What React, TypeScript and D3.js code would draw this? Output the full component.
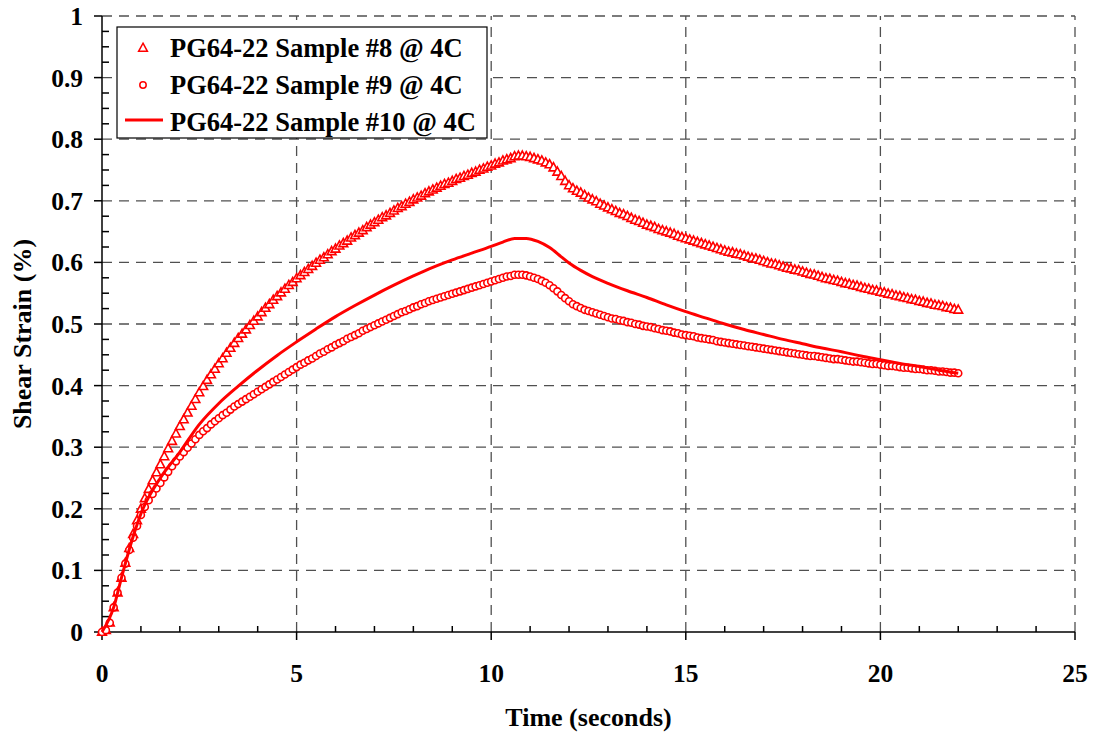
import React from "react";
import * as d3 from "d3";

// ---------- data ----------
const sampleInterval = 0.1; // seconds between recorded samples
const xTicks = [0, 5, 10, 15, 20, 25];
const yTicks = [0, 0.1, 0.2, 0.3, 0.4, 0.5, 0.6, 0.7, 0.8, 0.9, 1];
const seriesNames = ["PG64-22 Sample #8 @ 4C", "PG64-22 Sample #9 @ 4C", "PG64-22 Sample #10 @ 4C"];

// Sample #8 (triangles), one value per 0.1 s from 0 to 22 s
const sample8 = [
  0.000, 0.003, 0.015, 0.040, 0.064, 0.088, 0.112, 0.136, 0.159, 0.181,
  0.200, 0.217, 0.232, 0.246, 0.259, 0.272, 0.285, 0.298, 0.310, 0.322,
  0.334, 0.345, 0.356, 0.367, 0.378, 0.389, 0.399, 0.409, 0.418, 0.427,
  0.436, 0.444, 0.453, 0.461, 0.469, 0.477, 0.484, 0.491, 0.498, 0.505,
  0.512, 0.519, 0.526, 0.532, 0.539, 0.545, 0.551, 0.557, 0.563, 0.568,
  0.574, 0.579, 0.584, 0.589, 0.594, 0.599, 0.604, 0.608, 0.613, 0.618,
  0.622, 0.627, 0.631, 0.635, 0.640, 0.644, 0.648, 0.652, 0.657, 0.661,
  0.665, 0.669, 0.673, 0.676, 0.680, 0.684, 0.688, 0.691, 0.695, 0.698,
  0.702, 0.705, 0.708, 0.712, 0.715, 0.718, 0.721, 0.724, 0.727, 0.729,
  0.732, 0.735, 0.737, 0.740, 0.742, 0.745, 0.747, 0.750, 0.752, 0.755,
  0.757, 0.760, 0.762, 0.765, 0.767, 0.769, 0.772, 0.773, 0.773, 0.772,
  0.771, 0.769, 0.767, 0.765, 0.762, 0.759, 0.754, 0.747, 0.740, 0.732,
  0.725, 0.720, 0.716, 0.713, 0.709, 0.705, 0.702, 0.699, 0.695, 0.692,
  0.689, 0.686, 0.683, 0.680, 0.678, 0.675, 0.672, 0.669, 0.667, 0.664,
  0.661, 0.659, 0.657, 0.654, 0.652, 0.650, 0.648, 0.646, 0.643, 0.641,
  0.639, 0.637, 0.635, 0.633, 0.631, 0.629, 0.627, 0.625, 0.623, 0.621,
  0.619, 0.617, 0.616, 0.614, 0.613, 0.611, 0.609, 0.607, 0.606, 0.604,
  0.602, 0.600, 0.598, 0.597, 0.595, 0.593, 0.591, 0.590, 0.588, 0.587,
  0.585, 0.583, 0.581, 0.580, 0.578, 0.576, 0.574, 0.573, 0.571, 0.570,
  0.568, 0.566, 0.565, 0.563, 0.562, 0.560, 0.558, 0.557, 0.555, 0.554,
  0.552, 0.551, 0.549, 0.548, 0.546, 0.545, 0.543, 0.542, 0.540, 0.539,
  0.537, 0.536, 0.534, 0.533, 0.531, 0.530, 0.529, 0.527, 0.526, 0.524,
  0.523,
];

// Sample #9 (circles), one value per 0.1 s from 0 to 22 s
const sample9 = [
  0.000, 0.003, 0.015, 0.040, 0.064, 0.088, 0.111, 0.133, 0.153, 0.172,
  0.190, 0.203, 0.214, 0.224, 0.233, 0.242, 0.251, 0.260, 0.269, 0.277,
  0.285, 0.292, 0.299, 0.306, 0.313, 0.320, 0.326, 0.331, 0.337, 0.342,
  0.347, 0.352, 0.356, 0.361, 0.366, 0.370, 0.374, 0.378, 0.382, 0.386,
  0.390, 0.394, 0.398, 0.402, 0.406, 0.410, 0.414, 0.418, 0.422, 0.426,
  0.430, 0.434, 0.437, 0.441, 0.444, 0.448, 0.452, 0.455, 0.459, 0.462,
  0.466, 0.469, 0.472, 0.476, 0.479, 0.482, 0.485, 0.489, 0.492, 0.495,
  0.498, 0.501, 0.504, 0.507, 0.510, 0.513, 0.516, 0.519, 0.521, 0.524,
  0.527, 0.529, 0.532, 0.534, 0.537, 0.539, 0.541, 0.543, 0.545, 0.547,
  0.549, 0.551, 0.553, 0.555, 0.557, 0.559, 0.561, 0.563, 0.565, 0.567,
  0.569, 0.571, 0.573, 0.575, 0.577, 0.578, 0.580, 0.580, 0.580, 0.579,
  0.577, 0.575, 0.573, 0.570, 0.567, 0.563, 0.558, 0.553, 0.547, 0.542,
  0.537, 0.532, 0.529, 0.526, 0.523, 0.521, 0.519, 0.517, 0.515, 0.513,
  0.511, 0.509, 0.508, 0.506, 0.505, 0.503, 0.502, 0.500, 0.499, 0.497,
  0.496, 0.495, 0.493, 0.492, 0.490, 0.489, 0.488, 0.486, 0.485, 0.483,
  0.482, 0.481, 0.480, 0.478, 0.477, 0.476, 0.475, 0.474, 0.472, 0.471,
  0.470, 0.469, 0.468, 0.467, 0.466, 0.465, 0.464, 0.463, 0.462, 0.461,
  0.460, 0.459, 0.458, 0.457, 0.456, 0.455, 0.454, 0.453, 0.452, 0.451,
  0.450, 0.449, 0.448, 0.448, 0.447, 0.446, 0.445, 0.444, 0.443, 0.443,
  0.442, 0.441, 0.440, 0.439, 0.439, 0.438, 0.437, 0.436, 0.435, 0.435,
  0.434, 0.433, 0.432, 0.432, 0.431, 0.430, 0.429, 0.429, 0.428, 0.427,
  0.427, 0.426, 0.425, 0.425, 0.424, 0.423, 0.423, 0.422, 0.421, 0.421,
  0.420,
];

// Sample #10 (line)
const sample10Time = [
  0, 0.3, 0.5, 0.8, 1, 1.5, 2, 2.5, 3, 3.5, 4, 4.5, 5, 5.5, 6, 6.5, 7, 7.5, 8, 8.5,
  9, 9.5, 10, 10.3, 10.6, 10.9, 11.2, 11.5, 11.8, 12, 12.3, 12.6, 13, 13.5, 14, 14.5,
  15, 15.5, 16, 16.5, 17, 17.5, 18, 18.5, 19, 19.5, 20, 20.5, 21, 21.5, 22,
];
const sample10 = [
  0.000, 0.040, 0.088, 0.155, 0.192, 0.250, 0.292, 0.337, 0.371, 0.399, 0.425, 0.449,
  0.471, 0.492, 0.512, 0.530, 0.547, 0.563, 0.578, 0.592, 0.604, 0.615, 0.626, 0.633,
  0.639, 0.639, 0.634, 0.624, 0.609, 0.599, 0.587, 0.577, 0.566, 0.554, 0.543, 0.531,
  0.520, 0.510, 0.500, 0.491, 0.483, 0.475, 0.468, 0.461, 0.455, 0.448, 0.442, 0.436,
  0.431, 0.425, 0.420,
];

// ---------- layout ----------
const W = 1097;
const H = 736;
const plot = { left: 102, right: 1075, top: 16, bottom: 632 };
const RED = "#ff0000";
const FONT = "'Liberation Serif', 'Times New Roman', serif";

const x = d3.scaleLinear().domain([0, 25]).range([plot.left, plot.right]);
const y = d3.scaleLinear().domain([0, 1]).range([plot.bottom, plot.top]);

const pts8 = sample8.map((v, i) => [i * sampleInterval, v] as [number, number]);
const pts9 = sample9.map((v, i) => [i * sampleInterval, v] as [number, number]);
const pts10 = sample10.map((v, i) => [sample10Time[i], v] as [number, number]);

const tri = (cx: number, cy: number) =>
  `M${cx},${cy - 4.8}L${cx + 4.4},${cy + 3.3}L${cx - 4.4},${cy + 3.3}Z`;

export default function App() {
  const line = d3
    .line<[number, number]>()
    .x((d) => x(d[0]))
    .y((d) => y(d[1]))
    .curve(d3.curveMonotoneX);

  const xMinor = d3.range(0, 26, 1).filter((v) => v % 5 !== 0);
  const yMinor = d3.range(0, 41, 1).map((i) => i * 0.025).filter((_, i) => i % 4 !== 0);

  return (
    <svg
      width={W}
      height={H}
      style={{ position: "absolute", left: 0, top: 0, background: "#fff" }}
      fontFamily={FONT}
      fontWeight="bold"
    >
      <rect x={0} y={0} width={W} height={H} fill="#fff" />
      {/* grid */}
      <g stroke="#505050" strokeWidth={1.3} strokeDasharray="10,7">
        {yTicks.filter((t) => t > 0).map((t) => (
          <line key={"gy" + t} x1={plot.left} x2={plot.right} y1={y(t)} y2={y(t)} />
        ))}
        {xTicks.filter((t) => t > 0).map((t) => (
          <line key={"gx" + t} x1={x(t)} x2={x(t)} y1={plot.bottom} y2={plot.top} />
        ))}
      </g>
      {/* axes */}
      <g stroke="#000" strokeWidth={1.5}>
        <line x1={plot.left} x2={plot.left} y1={plot.top} y2={plot.bottom} />
        <line x1={plot.left} x2={plot.right} y1={plot.bottom} y2={plot.bottom} />
        {yTicks.map((t) => (
          <line key={"ty" + t} x1={plot.left - 8} x2={plot.left} y1={y(t)} y2={y(t)} />
        ))}
        {yMinor.map((t) => (
          <line key={"my" + t} x1={plot.left} x2={plot.left + 7} y1={y(t)} y2={y(t)} />
        ))}
        {xTicks.map((t) => (
          <line key={"tx" + t} x1={x(t)} x2={x(t)} y1={plot.bottom} y2={plot.bottom + 8} />
        ))}
        {xMinor.map((t) => (
          <line key={"mx" + t} x1={x(t)} x2={x(t)} y1={plot.bottom} y2={plot.bottom - 6} />
        ))}
      </g>
      {/* tick labels */}
      <g fontSize={25.5} fill="#000">
        {yTicks.map((t) => (
          <text key={"ly" + t} x={83} y={y(t)} dy="0.35em" textAnchor="end">
            {d3.format("~g")(t)}
          </text>
        ))}
        {xTicks.map((t) => (
          <text key={"lx" + t} x={x(t)} y={682} textAnchor="middle">
            {t}
          </text>
        ))}
      </g>
      {/* axis titles */}
      <text x={(plot.left + plot.right) / 2} y={726} textAnchor="middle" fontSize={26}>
        Time (seconds)
      </text>
      <text
        transform={`translate(31, ${(plot.top + plot.bottom) / 2 + 10}) rotate(-90)`}
        textAnchor="middle"
        fontSize={26}
      >
        Shear Strain (%)
      </text>
      {/* series */}
      <g fill="#fff" stroke={RED} strokeWidth={1.6}>
        {pts8.map((d, i) => (
          <path key={"p8" + i} d={tri(x(d[0]), y(d[1]))} />
        ))}
      </g>
      <g fill="#fff" stroke={RED} strokeWidth={1.6}>
        {pts9.map((d, i) => (
          <circle key={"p9" + i} cx={x(d[0])} cy={y(d[1])} r={3.5} />
        ))}
      </g>
      <path d={line(pts10) || ""} fill="none" stroke={RED} strokeWidth={3} />
      {/* legend */}
      <g>
        <rect x={117} y={27} width={370} height={111} fill="#fff" stroke="#000" strokeWidth={1.2} />
        <path d={tri(143, 48)} fill="#fff" stroke={RED} strokeWidth={1.5} />
        <circle cx={143} cy={85} r={3.2} fill="#fff" stroke={RED} strokeWidth={1.5} />
        <line x1={125} x2={163} y1={120} y2={120} stroke={RED} strokeWidth={3} />
        <g fontSize={26.5} fill="#000">
          <text x={170} y={57}>{seriesNames[0]}</text>
          <text x={170} y={94}>{seriesNames[1]}</text>
          <text x={170} y={131}>{seriesNames[2]}</text>
        </g>
      </g>
    </svg>
  );
}
